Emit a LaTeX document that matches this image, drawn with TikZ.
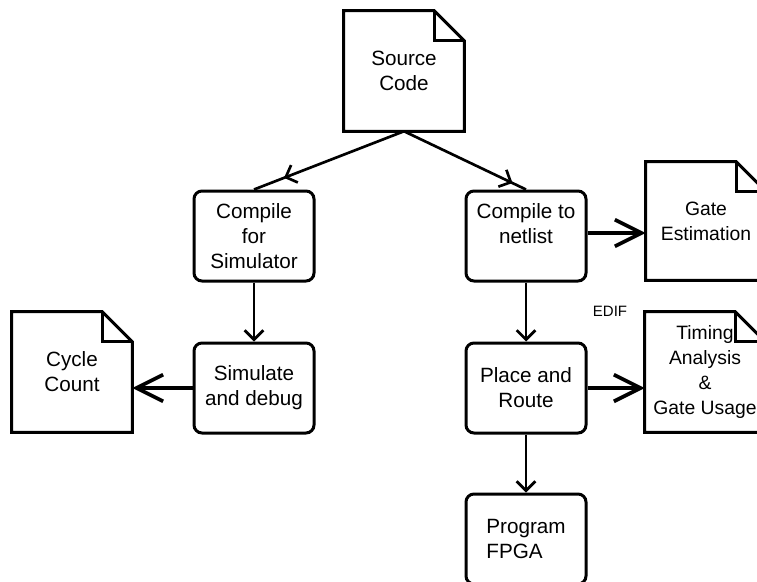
\documentclass[tikz,border=0pt]{standalone}
\usepackage{fontspec}
\setmainfont{Liberation Sans}
\usetikzlibrary{arrows.meta,decorations.markings}

% dog-eared outline around a doc node
\newcommand\docfold[1]{%
  \draw[docline] (#1.north west) -- ([xshift=-22.5pt]#1.north east)
    -- ([yshift=-22.5pt]#1.north east) -- (#1.south east) -- (#1.south west) -- cycle;
  \draw[docline] ([xshift=-22.5pt]#1.north east) |- ([yshift=-22.5pt]#1.north east);
}

\begin{document}
\begin{tikzpicture}[x=0.75pt,y=-0.75pt,
    txt/.style={font=\fontsize{15.5}{18.6}\selectfont,align=center,inner sep=0pt},
    small txt/.style={font=\fontsize{14.5}{18.6}\selectfont},
    box/.style={txt,draw,line width=2.25pt,rounded corners=6pt,
                minimum width=90pt,minimum height=67.5pt},
    doc/.style={txt,minimum width=90pt,minimum height=90pt},
    docline/.style={line width=2.25pt,line join=miter},
    flowline/.style={line width=2pt},
    flow/.style={flowline,-{Straight Barb[length=7pt,width=14pt]}},
    bigflow/.style={line width=2.8pt,-{Straight Barb[length=20pt,width=20pt]}},
    tipat/.style={postaction={decorate},decoration={markings,
        mark=at position #1 with {\arrow[line width=2pt]{Straight Barb[length=7pt,width=14pt]}}}}]
  \useasboundingbox (0,0) rectangle (757,582);

  % documents
  \node[doc] (src) at (404,71) {Source\\Code};
  \node[doc] (cycles) at (72,372) {Cycle\\Count};
  \node[doc,small txt,minimum height=88.5pt] (gates) at (706,221) {Gate\\Estimation};
  \node[doc,small txt] (timing) at (705,372) {Timing\\Analysis\\\&\\Gate Usage};
  \foreach \d in {src,cycles,gates,timing}{\docfold{\d}}

  % process steps
  \node[box] (simc) at (254,236) {Compile\\for\\Simulator};
  \node[box] (sim) at (254,388) {Simulate\\and debug};
  \node[box] (netc) at (526,236) {Compile to\\netlist\\~};
  \node[box] (pnr) at (526,388) {Place and\\Route};
  \node[box,align=left] (fpga) at (526,539) {Program\\FPGA};

  \node[font=\fontsize{11.25}{13}\selectfont,inner sep=0pt] (edif) at (610,311) {EDIF};

  % connectors
  \draw[flowline,tipat=0.8] (src.south) -- (simc.north);
  \draw[flowline,tipat=0.89] (src.south) -- (netc.north);
  \draw[flow] (simc) -- (sim);
  \draw[flow] (netc) -- (pnr);
  \draw[flow] (pnr) -- (fpga);
  \draw[bigflow] (sim.west) -- (sim.west -| cycles.east);
  \draw[bigflow] ([yshift=2.25pt]netc.east) -- ([yshift=2.25pt]netc.east -| gates.west);
  \draw[bigflow] (pnr.east) -- (pnr.east -| timing.west);
\end{tikzpicture}
\end{document}
